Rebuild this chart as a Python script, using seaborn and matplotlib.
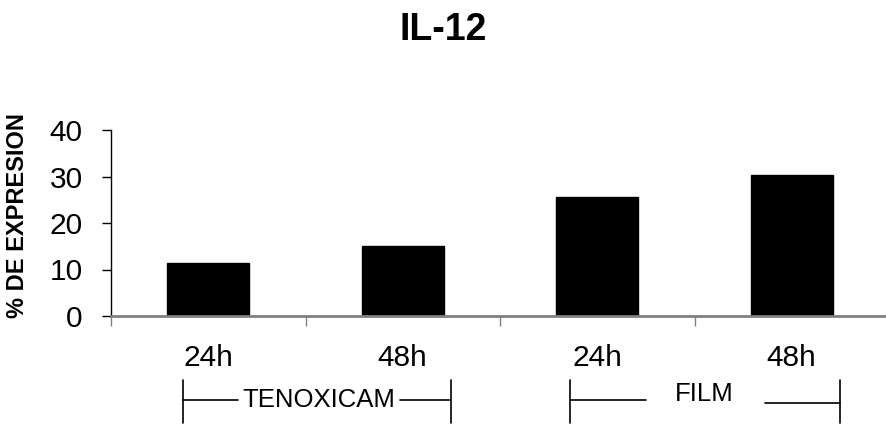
import numpy as np
import pandas as pd
import matplotlib
matplotlib.use("Agg")
import matplotlib.pyplot as plt
import matplotlib.transforms as mtransforms
import seaborn as sns

# ── Data ────────────────────────────────────────────────────────────────────
groups = ["TENOXICAM", "TENOXICAM", "FILM", "FILM"]
times = ["24h", "48h", "24h", "48h"]
expression = [11.4, 15.0, 25.6, 30.3]
y_ticks = [0, 10, 20, 30, 40]

df = pd.DataFrame({"group": groups, "time": times, "pct": expression})
df["cond"] = df["group"] + " " + df["time"]

# ── Style ───────────────────────────────────────────────────────────────────
sns.set_style("white")
plt.rcParams["font.family"] = ["Liberation Sans", "DejaVu Sans"]
plt.rcParams["text.color"] = "black"
plt.rcParams["xtick.color"] = "black"
plt.rcParams["ytick.color"] = "black"

fig = plt.figure(figsize=(8.87, 4.26), dpi=100)
ax = fig.add_axes([111 / 887, 1 - 316 / 426, 778 / 887, 186 / 426])

sns.barplot(data=df, x="cond", y="pct", color="black", saturation=1,
            width=0.42, edgecolor="black", ax=ax)

ax.set_xlim(-0.5, len(df) - 0.5)
ax.set_ylim(0, 40)
ax.set_yticks(y_ticks)
ax.set_xlabel("")
ax.set_ylabel("")

# category labels centred under the bars, boundary ticks between them
ax.set_xticks(range(len(df)))
ax.set_xticklabels(df["time"], fontsize=21.5)
ax.set_xticks(np.arange(-0.5, len(df), 1), minor=True)
ax.tick_params(axis="x", which="major", length=0, pad=20, labelcolor="black")
ax.tick_params(axis="x", which="minor", bottom=True, length=7.5, width=1,
               color="#808080", direction="out")
ax.tick_params(axis="y", length=6.5, width=1, color="black", labelsize=21.5,
               labelcolor="black", pad=14, direction="out", left=True)

for s in ["top", "right"]:
    ax.spines[s].set_visible(False)
ax.spines["left"].set_color("black")
ax.spines["left"].set_linewidth(1)
ax.spines["bottom"].set_color("#808080")
ax.spines["bottom"].set_linewidth(2)

# ── Titles ──────────────────────────────────────────────────────────────────
fig.text(0.5, 1 - 40 / 426, "IL-12", ha="center", va="baseline",
         fontsize=27, fontweight="bold", color="black")
fig.text(18 / 887, 1 - 215 / 426, "% DE EXPRESION", rotation=90,
         ha="center", va="center", fontsize=17, fontweight="bold",
         color="black")

# ── Group brackets ──────────────────────────────────────────────────────────
tr = mtransforms.blended_transform_factory(ax.transData, fig.transFigure)
y_top, y_bot, y_mid = 1 - 380 / 426, 1 - 423 / 426, 1 - 400 / 426
lkw = dict(color="black", lw=1.2, transform=tr, clip_on=False)

# TENOXICAM
for x in (-0.129, 1.247):
    ax.plot([x, x], [y_top, y_bot], **lkw)
ax.plot([-0.129, 0.154], [y_mid, y_mid], **lkw)
ax.plot([0.985, 1.247], [y_mid, y_mid], **lkw)
ax.text(0.569, y_mid, "TENOXICAM", transform=tr, ha="center", va="center",
        fontsize=18.5, color="black")

# FILM
for x in (1.861, 3.247):
    ax.plot([x, x], [y_top, y_bot], **lkw)
ax.plot([1.861, 2.253], [y_mid, y_mid], **lkw)
ax.plot([2.862, 3.247], [y_mid - 0.007, y_mid - 0.007], **lkw)
ax.text(2.55, 1 - 394 / 426, "FILM", transform=tr, ha="center", va="center",
        fontsize=18.5, color="black")

fig.savefig("out.png", dpi=100)
